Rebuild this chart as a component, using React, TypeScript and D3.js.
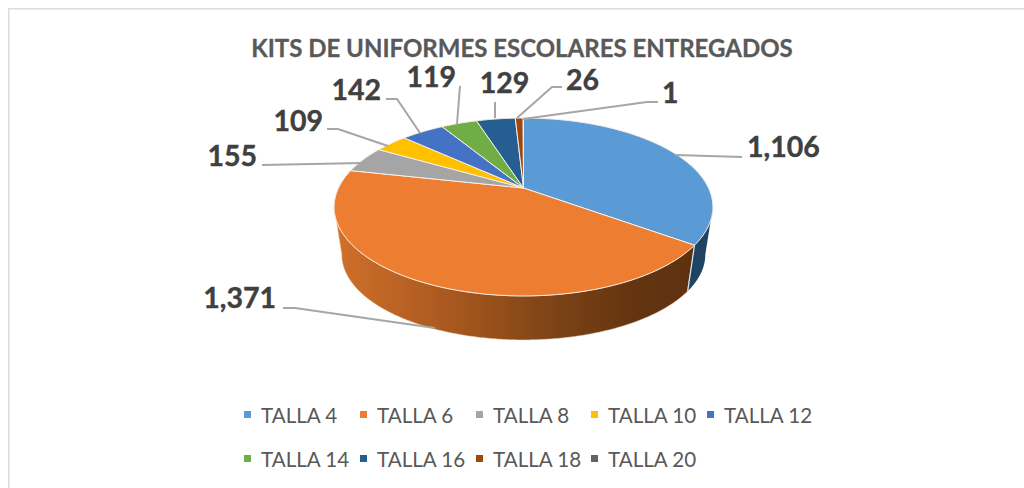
import React from "react";
import * as d3 from "d3";

const categories = ["TALLA 4", "TALLA 6", "TALLA 8", "TALLA 10", "TALLA 12", "TALLA 14", "TALLA 16", "TALLA 18", "TALLA 20"];
const values = [1106, 1371, 155, 109, 142, 119, 129, 26, 1];
const colors = ["#5b9bd5", "#ed7d31", "#a5a5a5", "#ffc000", "#4472c4", "#70ad47", "#255e91", "#9e480e", "#636363"];
const title = "KITS DE UNIFORMES ESCOLARES ENTREGADOS";

const W = 1024, H = 488;
const cx = 523.5, cy = 188, a = 84.9, b = 185, k = 0.2135;
const s2 = 0.96, dy2 = 48.3;

const proj = (t: number, scale = 1, dy = 0): [number, number] => {
  const w = 1 + k * Math.cos(t);
  return [cx + (scale * b * Math.sin(t)) / w, cy + dy - (scale * a * Math.cos(t)) / w];
};
const arcPts = (t0: number, t1: number, scale = 1, dy = 0) => {
  const n = Math.max(2, Math.ceil(Math.abs(t1 - t0) / 0.01));
  return d3.range(n + 1).map((i) => proj(t0 + ((t1 - t0) * i) / n, scale, dy));
};
const line = d3.line();
const arcs = d3.pie<number>().sort(null).value((d) => d)(values);
const tRight = Math.acos(-k);
const tLeft = 2 * Math.PI - tRight;

const leaders: { pts: [number, number][]; x: number; y: number; anchor: string }[] = [
  { pts: [[675, 155], [742, 157]], x: 747, y: 157, anchor: "start" },
  { pts: [[435, 328], [295, 308], [283, 308]], x: 276, y: 308, anchor: "end" },
  { pts: [[362, 163], [262, 165]], x: 257, y: 166, anchor: "end" },
  { pts: [[388, 146], [338, 129], [327, 129]], x: 323, y: 131, anchor: "end" },
  { pts: [[420, 133], [397, 99], [386, 99]], x: 381, y: 100, anchor: "end" },
  { pts: [[457, 124], [460, 86]], x: 456, y: 87, anchor: "end" },
  { pts: [[495, 118], [495, 102]], x: 504.5, y: 93, anchor: "middle" },
  { pts: [[517, 118], [552, 87], [562, 87]], x: 566, y: 90, anchor: "start" },
  { pts: [[523, 119], [647, 102], [658, 102]], x: 662, y: 103, anchor: "start" },
];

const fmt = d3.format(",");
const legendCols = [244, 360, 476, 591, 707];
const legendRows = [416, 460];

export default function App() {
  const sideBlue = arcs[0];
  const sideOrange = arcs[1];
  const side = (t0: number, t1: number) => {
    const top = arcPts(t0, t1);
    const bot = arcPts(t1, t0, s2, dy2);
    return line([...top, ...bot])! + "Z";
  };
  return (
    <svg width={W} height={H} style={{ position: "absolute", left: 0, top: 0, background: "#fff" }}>
      <defs>
        <linearGradient id="orangeSide" gradientUnits="userSpaceOnUse" x1={cx - 189} x2={cx + 189} y1={0} y2={0}>
          <stop offset="0" stopColor="#d0702a" />
          <stop offset="0.3" stopColor="#a9591f" />
          <stop offset="0.6" stopColor="#7a4116" />
          <stop offset="0.8" stopColor="#63340f" />
          <stop offset="1" stopColor="#5e3010" />
        </linearGradient>
      </defs>
      <path d={`M8.75 ${H}V8.75H${W}`} fill="none" stroke="#dcdcdc" strokeWidth={1.5} />
      <text x={522} y={57} textAnchor="middle" fontFamily="Lato" fontWeight={700} fontSize={24} fill="#595959" stroke="#595959" strokeWidth={0.3}>
        {title}
      </text>

      <path d={side(sideBlue.endAngle, Math.max(sideBlue.endAngle, tLeft))} fill="url(#orangeSide)" stroke="#f4d6bd" strokeWidth={0.5} />
      <path d={side(tRight, sideBlue.endAngle)} fill="#1f4463" />
      <line
        x1={proj(sideOrange.startAngle)[0]} y1={proj(sideOrange.startAngle)[1]}
        x2={proj(sideOrange.startAngle, s2, dy2)[0]} y2={proj(sideOrange.startAngle, s2, dy2)[1]}
        stroke="#d9e6f0" strokeWidth={1.2}
      />

      {arcs.map((d, i) => (
        <path
          key={i}
          d={line([[cx, cy], ...arcPts(d.startAngle, d.endAngle)])! + "Z"}
          fill={colors[i]}
          stroke="#f6efe6"
          strokeWidth={1}
          strokeLinejoin="round"
        />
      ))}

      {leaders.map((l, i) => (
        <g key={i}>
          <path d={line(l.pts)!} fill="none" stroke="#a6a6a6" strokeWidth={2} />
          <text x={l.x} y={l.y} textAnchor={l.anchor as any} fontFamily="Lato" fontWeight={700} fontSize={28.5} fill="#404040" stroke="#404040" strokeWidth={0.4}>
            {fmt(values[i])}
          </text>
        </g>
      ))}

      {categories.map((c, i) => {
        const row = i < 5 ? 0 : 1;
        const col = i < 5 ? i : i - 5;
        const x = legendCols[col];
        const y = legendRows[row];
        return (
          <g key={c}>
            <rect x={x} y={y - 5} width={7} height={7} fill={colors[i]} />
            <text x={x + 17} y={y + 7} fontFamily="Lato" fontSize={20.6} fill="#595959">
              {c}
            </text>
          </g>
        );
      })}
    </svg>
  );
}
